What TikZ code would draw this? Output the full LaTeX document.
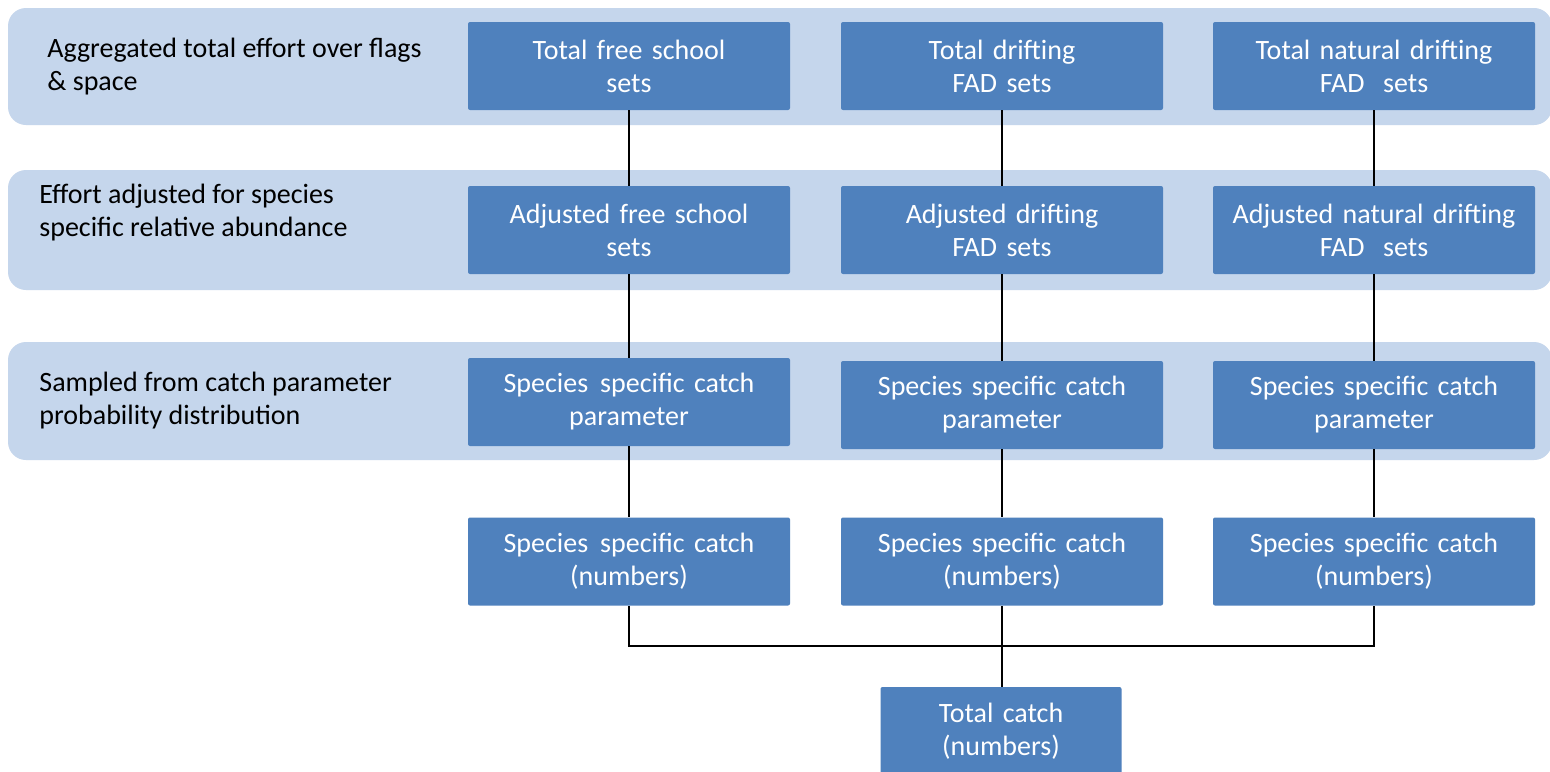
\documentclass[tikz,border=0pt]{standalone}
\usepackage{fontspec}
\setmainfont{Carlito}
\definecolor{bandblue}{RGB}{197,214,236}
\definecolor{boxblue}{RGB}{79,129,189}
\begin{document}
\begin{tikzpicture}[x=0.5pt,y=-0.5pt,
  band/.style={fill=bandblue,draw=none,rounded corners=9pt},
  bx/.style={rectangle,fill=boxblue,draw=none,rounded corners=1pt,text=white,
    minimum width=161pt,minimum height=44pt,text width=158pt,align=center,
    inner sep=0pt,font=\fontsize{14}{16.5}\selectfont},
  lbl/.style={anchor=west,align=left,inner sep=0pt,text=black,
    font=\fontsize{14}{16.5}\selectfont},
  conn/.style={draw=black,line width=1pt}]
\useasboundingbox (0,0) rectangle (1550,771);
\fill[white] (0,0) rectangle (1550,771);
% bands
\path[band] (8,8) rectangle (1552,125);
\path[band] (8,170) rectangle (1552,290);
\path[band] (8,342) rectangle (1552,460);
% labels
\node[lbl] (l1) at (47,67) {Aggregated total effort over flags\\\& space};
\node[lbl] (l2) at (39,213) {Effort adjusted for species\\specific relative abundance};
\node[lbl] (l3) at (39,401) {Sampled from catch parameter\\probability distribution};
% boxes
\node[bx] (a1) at (629,66) {Total free school\\sets};
\node[bx] (a2) at (1002,66) {Total drifting\\FAD sets};
\node[bx] (a3) at (1374,66) {Total natural drifting\\FAD\ \ sets};
\node[bx] (b1) at (629,230) {Adjusted free school\\sets};
\node[bx] (b2) at (1002,230) {Adjusted drifting\\FAD sets};
\node[bx] (b3) at (1374,230) {Adjusted natural drifting\\FAD\ \ sets};
\node[bx] (c1) at (629,402) {Species\hspace{1.3pt} specific catch\\parameter};
\node[bx] (c2) at (1002,405) {Species specific catch\\parameter};
\node[bx] (c3) at (1374,405) {Species specific catch\\parameter};
\node[bx] (d1) at (629,561.5) {Species\hspace{1.3pt} specific catch\\(numbers)};
\node[bx] (d2) at (1002,561.5) {Species specific catch\\(numbers)};
\node[bx] (d3) at (1374,561.5) {Species specific catch\\(numbers)};
\node[bx,minimum width=120.5pt,text width=118pt] (t) at (1001,731) {Total catch\\(numbers)};
\coordinate (j) at (1002,646);
% connectors
\foreach \c in {1,2,3}{
  \draw[conn] (a\c.south) -- (b\c.north);
  \draw[conn] (b\c.south) -- (c\c.north);
  \draw[conn] (c\c.south) -- (d\c.north);
}
\draw[conn] (d1.south) |- (j) -| (d3.south);
\draw[conn] (d2.south) -- (d2.south |- t.north);
\end{tikzpicture}
\end{document}
